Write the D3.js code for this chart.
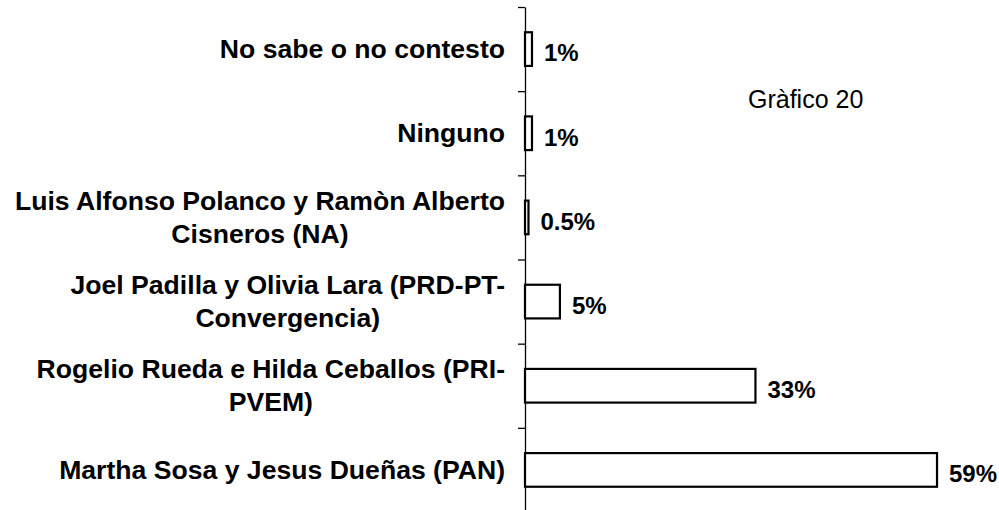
<!DOCTYPE html>
<html>
<head>
<meta charset="utf-8">
<script src="https://cdn.jsdelivr.net/npm/d3@7"></script>
<style>
  body { margin: 0; background: #fff; }
  text { font-family: "Liberation Sans", Arial, sans-serif; fill: #000; }
</style>
</head>
<body>
<div class="chart"></div>
<script>
// Chart data (top to bottom)
var categories = [
  "No sabe o no contesto",
  "Ninguno",
  "Luis Alfonso Polanco y Ramòn Alberto\nCisneros (NA)",
  "Joel Padilla y Olivia Lara (PRD-PT-\nConvergencia)",
  "Rogelio Rueda e Hilda Ceballos (PRI-\nPVEM)",
  "Martha Sosa y Jesus Dueñas (PAN)"
];
var values = [1, 1, 0.5, 5, 33, 59];
var valueLabels = ["1%", "1%", "0.5%", "5%", "33%", "59%"];
var chartTitle = "Gràfico 20";

// SVG area
var svgWidth = 999;
var svgHeight = 510;
var axisX = 525;

var svg = d3.select(".chart")
  .append("svg")
  .attr("width", svgWidth)
  .attr("height", svgHeight);

// Scales
var xScale = d3.scaleLinear().domain([0, 60]).range([axisX, axisX + 419]);
var yScale = d3.scaleBand()
  .domain(categories)
  .range([7, 512])
  .paddingInner(0.6)
  .paddingOuter(0.3);

// Tick positions at the band boundaries
var boundScale = d3.scaleLinear().domain([0, categories.length]).range([7, 512]);
var leftAxis = d3.axisLeft(boundScale)
  .tickValues(d3.range(categories.length + 1))
  .tickFormat("")
  .tickSizeInner(7)
  .tickSizeOuter(0);

svg.append("g")
  .attr("class", "y-axis")
  .attr("transform", "translate(" + axisX + ",0)")
  .call(leftAxis)
  .call(function(g) { g.selectAll("line, path").attr("stroke", "#000").attr("stroke-width", 1.3); });

// Bars
svg.selectAll("rect.bar")
  .data(values)
  .enter().append("rect")
  .attr("class", "bar")
  .attr("x", xScale(0))
  .attr("y", function(d, i) { return yScale(categories[i]); })
  .attr("width", function(d) { return xScale(d) - xScale(0); })
  .attr("height", yScale.bandwidth())
  .attr("fill", "#fff")
  .attr("stroke", "#000")
  .attr("stroke-width", 2.2);

// Value labels
svg.selectAll("text.value")
  .data(values)
  .enter().append("text")
  .attr("class", "value")
  .attr("x", function(d) { return xScale(d) + 12; })
  .attr("y", function(d, i) { return yScale(categories[i]) + yScale.bandwidth() / 2 + 6; })
  .attr("dominant-baseline", "middle")
  .attr("font-size", "24px")
  .attr("font-weight", "bold")
  .text(function(d, i) { return valueLabels[i]; });

// Category labels: right edge at 505, multi-line blocks centered
var labelRight = 505;
var lineGap = 33;
categories.forEach(function(c) {
  var lines = c.split("\n");
  var cy = yScale(c) + yScale.bandwidth() / 2;
  var t = svg.append("text")
    .attr("class", "cat")
    .attr("font-size", "26.6px")
    .attr("font-weight", "bold")
    .attr("text-anchor", "middle")
    .attr("dominant-baseline", "middle");
  var spans = lines.map(function(l, j) {
    return t.append("tspan")
      .attr("y", cy + (j - (lines.length - 1) / 2) * lineGap + 2)
      .text(l);
  });
  var maxW = d3.max(spans, function(s) { return s.node().getComputedTextLength(); });
  spans.forEach(function(s) { s.attr("x", labelRight - maxW / 2); });
});

// Title
svg.append("text")
  .attr("x", 748)
  .attr("y", 108)
  .attr("font-size", "25px")
  .text(chartTitle);
</script>
</body>
</html>
